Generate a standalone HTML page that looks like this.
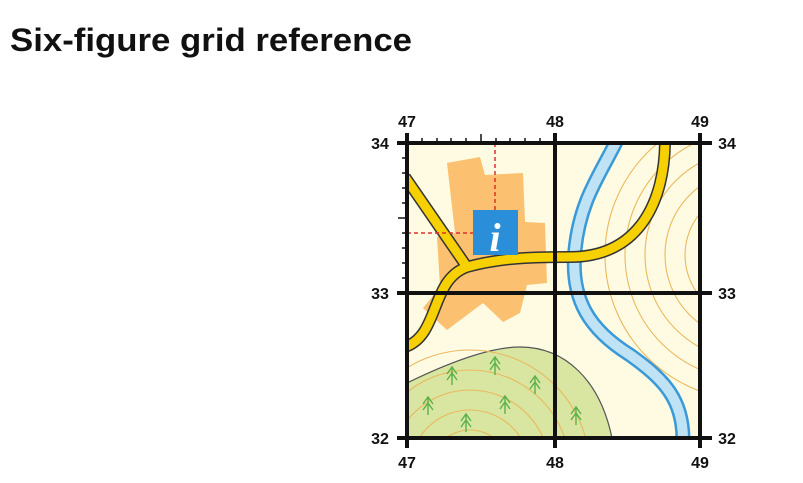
<!DOCTYPE html>
<html><head><meta charset="utf-8"><style>
html,body{margin:0;padding:0;background:#fff;width:803px;height:483px;overflow:hidden}
svg{display:block}
</style></head><body>
<svg width="803" height="483" viewBox="0 0 803 483" xmlns="http://www.w3.org/2000/svg" font-family="Liberation Sans, sans-serif">
<text x="10" y="51" font-size="32" font-weight="bold" fill="#111" textLength="402" lengthAdjust="spacingAndGlyphs">Six-figure grid reference</text>
<defs><clipPath id="c"><rect x="407" y="143" width="293" height="295"/></clipPath></defs>
<rect x="407" y="143" width="293" height="295" fill="#fffbe3"/>
<g clip-path="url(#c)">
<path d="M407,383 C450,362 490,347 520,347 C565,347 600,380 612,438 L407,438 Z" fill="#d8e6a2" stroke="#555" stroke-width="1.2"/>
<g fill="none" stroke="#eab85c" stroke-width="1.1">
<circle cx="750" cy="255" r="45"/><circle cx="750" cy="255" r="65"/><circle cx="750" cy="255" r="85"/><circle cx="750" cy="255" r="105"/><circle cx="750" cy="255" r="125"/><circle cx="750" cy="255" r="145"/>
<circle cx="470" cy="470" r="40"/><circle cx="470" cy="470" r="60"/><circle cx="470" cy="470" r="80"/><circle cx="470" cy="470" r="100"/><circle cx="470" cy="470" r="120"/>
</g>
<polygon points="447,163 480,157 485,175 523,173 525,222 545,223 547,283 527,285 520,313 503,322 483,303 447,330 423,308 440,287 437,237 455,233" fill="#fbc070"/>
<path d="M617,140 C600,175 580,200 575,250 C570,300 590,330 630,355 C665,380 683,400 683,440" fill="none" stroke="#3a9ad8" stroke-width="15"/>
<path d="M617,140 C600,175 580,200 575,250 C570,300 590,330 630,355 C665,380 683,400 683,440" fill="none" stroke="#bfe3f5" stroke-width="10"/>
<g fill="none" stroke-linecap="butt">
<path d="M405,177 L467,267 M467,267 C500,258 530,257 570,257 C640,257 665,200 665,140 M467,267 C430,280 440,335 405,347" stroke="#333" stroke-width="12"/>
<path d="M405,177 L467,267 M467,267 C500,258 530,257 570,257 C640,257 665,200 665,140 M467,267 C430,280 440,335 405,347" stroke="#f6d000" stroke-width="9"/>
</g>
<g stroke="#5cb04a" stroke-width="1.4" fill="none">
<g id="t"><path d="M0,0 V-18 M-5,-11 L0,-18 L5,-11 M-5,-5 L0,-12 L5,-5"/></g>
<use href="#t" x="428" y="415"/><use href="#t" x="452" y="385"/><use href="#t" x="495" y="375"/><use href="#t" x="535" y="394"/><use href="#t" x="466" y="432"/><use href="#t" x="505" y="414"/><use href="#t" x="576" y="425"/>
</g>
<g stroke="#e03030" stroke-width="1.5" stroke-dasharray="4,3">
<line x1="495" y1="143" x2="495" y2="210"/><line x1="407" y1="233" x2="473" y2="233"/>
</g>
<rect x="473" y="210" width="45" height="45" fill="#2a8fd8"/>
<text x="495" y="251" text-anchor="middle" font-family="Liberation Serif, serif" font-style="italic" font-weight="bold" font-size="40" fill="#fff">i</text>
</g>
<g stroke="#111" stroke-width="4">
<line x1="397" y1="143" x2="712" y2="143"/><line x1="397" y1="293" x2="712" y2="293"/><line x1="397" y1="438" x2="712" y2="438"/>
<line x1="407" y1="133" x2="407" y2="448"/><line x1="555" y1="133" x2="555" y2="448"/><line x1="700" y1="133" x2="700" y2="448"/>
</g>
<g stroke="#111" stroke-width="1.5">
<path d="M422,143v-5M437,143v-5M451,143v-5M466,143v-5M481,143v-9M496,143v-5M510,143v-5M525,143v-5M540,143v-5"/>
<path d="M407,158h-5M407,173h-5M407,188h-5M407,203h-5M407,218h-9M407,233h-5M407,248h-5M407,263h-5M407,278h-5"/>
</g>
<g font-size="16" font-weight="bold" fill="#111" text-anchor="middle">
<text x="407" y="127">47</text><text x="555" y="127">48</text><text x="700" y="127">49</text>
<text x="407" y="468">47</text><text x="555" y="468">48</text><text x="700" y="468">49</text>
<text x="380" y="149">34</text><text x="380" y="299">33</text><text x="380" y="444">32</text>
<text x="727" y="149">34</text><text x="727" y="299">33</text><text x="727" y="444">32</text>
</g>
</svg>
</body></html>
